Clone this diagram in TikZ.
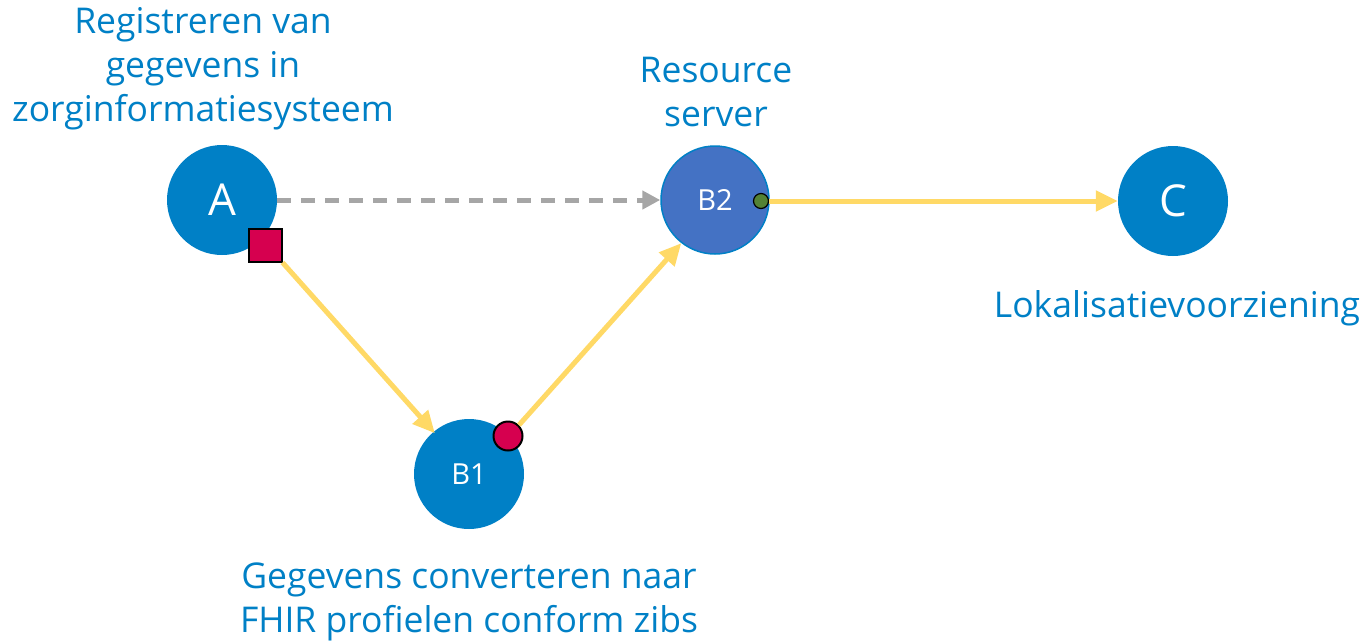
\documentclass[tikz,border=0pt]{standalone}
\usepackage{fontspec}
\setmainfont{Open Sans}
\usetikzlibrary{arrows.meta}
\definecolor{nodeblue}{HTML}{0080C6}
\definecolor{btwo}{HTML}{4472C4}
\definecolor{txtblue}{HTML}{0080C6}
\definecolor{arrowy}{HTML}{FFD966}
\definecolor{dashgray}{HTML}{A6A6A6}
\definecolor{mred}{HTML}{D6004F}
\definecolor{mgreen}{HTML}{548235}
\tikzset{
  circ/.style={circle, fill=nodeblue, minimum size=110pt, inner sep=0pt, text=white},
  lbl/.style={text=txtblue, align=center, font=\fontsize{35.5}{44}\selectfont},
  yarrow/.style={draw=arrowy, line width=5pt, -{Triangle[length=22pt,width=20pt]}},
  garrow/.style={draw=dashgray, line width=5pt, dash pattern=on 14pt off 10pt, -{Triangle[length=18pt,width=18pt]}},
}
\begin{document}
\begin{tikzpicture}[x=1pt,y=-1pt]
\useasboundingbox (0,0) rectangle (1368,641);
\node[circ, font=\fontsize{44}{50}\selectfont] (A) at (222,200) {A};
\node[circ, fill=btwo, draw=nodeblue, line width=1.5pt, minimum size=108pt, font=\fontsize{29}{34}\selectfont] (B2) at (715,200) {B2};
\node[circ, font=\fontsize{29}{34}\selectfont] (B1) at (469,474) {B1};
\node[circ, font=\fontsize{44}{50}\selectfont] (C) at (1173,201) {C};
\node[draw=black, line width=2pt, fill=mred, minimum size=33pt, inner sep=0pt] (sq) at (265,245) {};
\node[circle, draw=black, line width=2pt, fill=mred, minimum size=29pt, inner sep=0pt] (rd) at (508,436) {};
\node[circle, draw=black, line width=1.2pt, fill=mgreen, minimum size=15pt, inner sep=0pt] (gd) at (761,201) {};
\draw[garrow] (A.east) -- (B2.west);
\draw[yarrow, shorten >=-2pt] (sq.south east) -- (B1.130);
\draw[yarrow] (rd.45) -- (B2.232);
\draw[yarrow] (gd.east) -- (C.west);
\node[lbl] (tA) at (203,69) {Registreren van\\gegevens in\\zorginformatiesysteem};
\node[lbl] (tB2) at (716,92) {Resource\\server};
\node[lbl] (tC) at (1177,308) {Lokalisatievoorziening};
\node[lbl] (tB1) at (469,602) {Gegevens converteren naar\\FHIR profielen conform zibs};
\end{tikzpicture}
\end{document}
